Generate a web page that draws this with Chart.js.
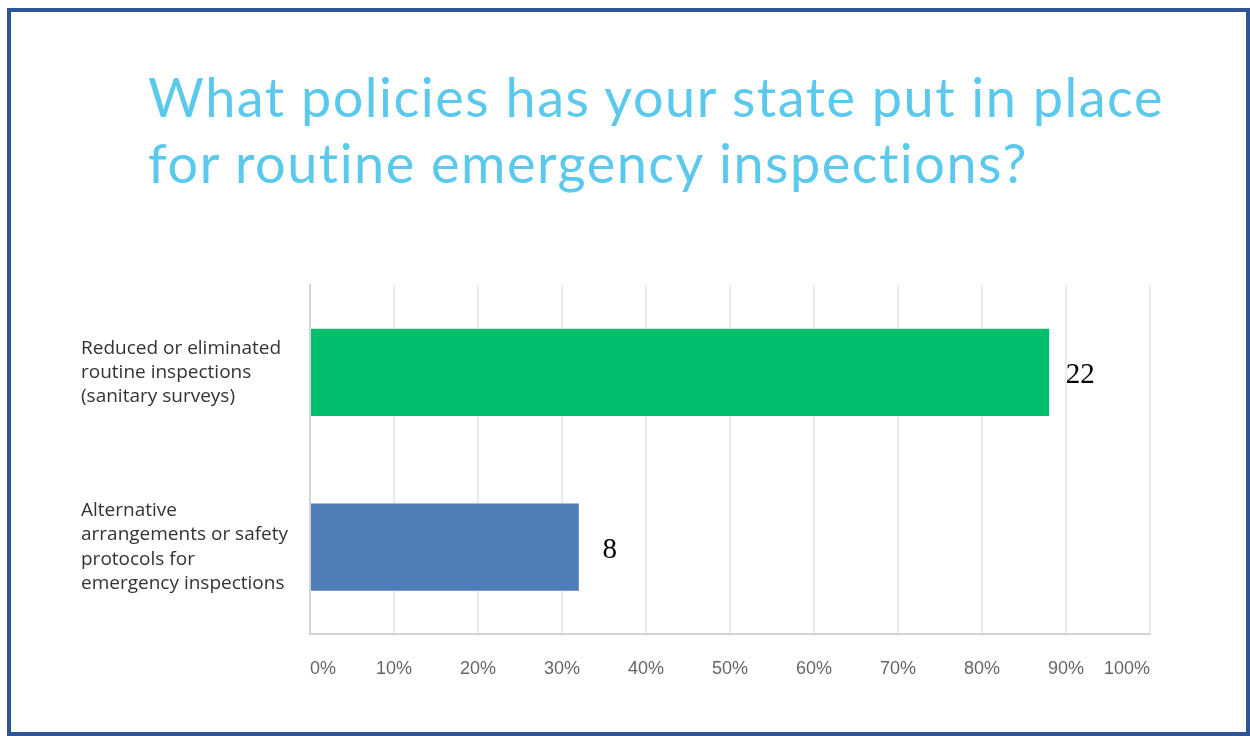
<!DOCTYPE html>
<html>
<head>
<meta charset="utf-8">
<script src="https://cdn.jsdelivr.net/npm/chart.js@4.4.1/dist/chart.umd.min.js"></script>
<style>
	html, body { margin: 0; padding: 0; background: #fff; }
	#frame {
		position: absolute; left: 7px; top: 8px; width: 1243px; height: 728px;
		box-sizing: border-box; border: 4px solid #2f5597;
	}
	#title {
		position: absolute; left: 148px; top: 64px; margin: 0;
		font-family: Lato, sans-serif; font-weight: 400; font-size: 54px; line-height: 66px;
		letter-spacing: 1.5px; color: #5bc8ee; white-space: nowrap;
	}
	#wrap { position: absolute; left: 0; top: 0; width: 1250px; height: 736px; }
</style>
</head>
<body>
<div id="frame"></div>
<h1 id="title">What policies has your state put in place<br>for routine emergency inspections?</h1>
<div id="wrap"><canvas id="chart"></canvas></div>
<script>
	// Chart data
	var categories = [
		[ 'Reduced or eliminated', 'routine inspections', '(sanitary surveys)' ],
		[ 'Alternative', 'arrangements or safety', 'protocols for', 'emergency inspections' ]
	];
	var percentValues = [ 88, 32 ];
	var responseCounts = [ 22, 8 ];
	var barColors = [ '#00bf6f', '#507cb7' ];
	var xTickLabels = [ '0%', '10%', '20%', '30%', '40%', '50%', '60%', '70%', '80%', '90%', '100%' ];

	// Draws the response count to the right of each bar.
	var countLabels = {
		id: 'countLabels',
		afterDatasetsDraw: function( chart ) {
			var ctx = chart.ctx;
			var meta = chart.getDatasetMeta( 0 );
			ctx.save();
			ctx.font = '29px "Liberation Serif", serif';
			ctx.fillStyle = '#000';
			ctx.textAlign = 'center';
			ctx.textBaseline = 'middle';
			meta.data.forEach( function( bar, i ) {
				ctx.fillText( String( responseCounts[ i ] ), bar.x + 31, bar.y + 3 );
			} );
			ctx.restore();
		}
	};

	new Chart( document.getElementById( 'chart' ), {
		type: 'bar',
		data: {
			labels: categories,
			datasets: [ {
				data: percentValues,
				backgroundColor: barColors,
				borderWidth: 0,
				categoryPercentage: 1,
				barPercentage: 0.5
			} ]
		},
		options: {
			indexAxis: 'y',
			responsive: true,
			maintainAspectRatio: false,
			animation: false,
			layout: { padding: { left: 81, top: 285, right: 100, bottom: 32 } },
			plugins: {
				legend: { display: false },
				tooltip: { enabled: false }
			},
			scales: {
				x: {
					min: 0,
					max: 100,
					ticks: {
						stepSize: 10,
						align: 'inner',
						padding: 24,
						color: '#666',
						font: { family: '"Liberation Sans", sans-serif', size: 18 },
						callback: function( value, index ) {
							return xTickLabels[ index ];
						}
					},
					grid: { color: '#ebebeb', lineWidth: 2, drawTicks: false },
					border: { display: true, color: '#d4d4d4', width: 2 }
				},
				y: {
					afterFit: function( scale ) {
						scale.width = 229;
					},
					ticks: {
						crossAlign: 'far',
						color: '#333',
						font: { family: '"Open Sans", sans-serif', size: 19, lineHeight: 1.27 }
					},
					grid: { display: false, drawTicks: false },
					border: { display: true, color: '#d4d4d4', width: 2 }
				}
			}
		},
		plugins: [ countLabels ]
	} );
</script>
</body>
</html>
